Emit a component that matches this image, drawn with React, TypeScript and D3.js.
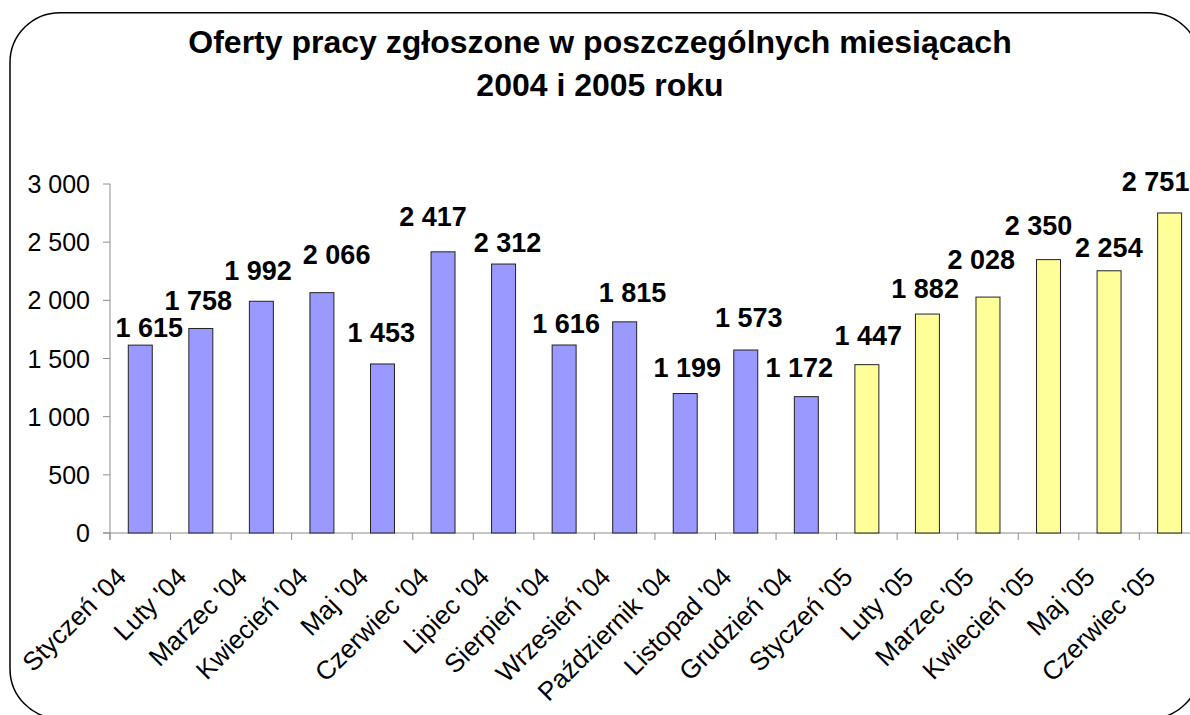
import React from "react";
import * as d3 from "d3";

const categories = [
  "Styczeń '04", "Luty '04", "Marzec '04", "Kwiecień '04", "Maj '04", "Czerwiec '04",
  "Lipiec '04", "Sierpień '04", "Wrzesień '04", "Październik '04", "Listopad '04", "Grudzień '04",
  "Styczeń '05", "Luty '05", "Marzec '05", "Kwiecień '05", "Maj '05", "Czerwiec '05",
];
const values2004 = [1615, 1758, 1992, 2066, 1453, 2417, 2312, 1616, 1815, 1199, 1573, 1172];
const values2005 = [1447, 1882, 2028, 2350, 2254, 2751];
const yTicks = [0, 500, 1000, 1500, 2000, 2500, 3000];
const titleLines = ["Oferty pracy zgłoszone w poszczególnych miesiącach", "2004 i 2005 roku"];

// label nudges (relative to bar centre / bar top) as placed in the original
const labelDx = [9, -2.5, -3.4, 14.7, -1.2, -10, 3.9, 2, 7.8, 2, 3, -7, 1.3, -2.3, -6.8, -10, -0.2, -14];
const labelGap = [7.7, 18, 21, 28.5, 22, 25.6, 12.3, 12.3, 20, 17, 23, 20, 20, 16, 27.7, 24.6, 13.5, 22];

const W = 1190;
const H = 715;
const FONT = "'Liberation Sans', Arial, Helvetica, sans-serif";

const fmt = (v: number) => {
  const s = String(v);
  return s.length > 3 ? s.slice(0, s.length - 3) + " " + s.slice(-3) : s;
};

export default function App() {
  const data = [
    ...values2004.map((v, i) => ({ cat: categories[i], value: v, year: 2004 })),
    ...values2005.map((v, i) => ({ cat: categories[12 + i], value: v, year: 2005 })),
  ];
  const x = d3.scaleBand<string>().domain(categories).range([110, 1199.9]).paddingInner(0.604).paddingOuter(0.302);
  const y = d3.scaleLinear().domain([0, 3000]).range([533, 184]);
  const step = x.step();
  const axisColor = "#8c8c8c";

  return (
    <svg width={W} height={H} style={{ position: "absolute", left: 0, top: 0, display: "block" }}>
      <rect x={0} y={0} width={W} height={H} fill="#ffffff" />
      <rect x={10} y={12.7} width={1190} height={706} rx={50} ry={50} fill="#ffffff" stroke="#000" strokeWidth={1.5} />
      {titleLines.map((t, i) => (
        <text key={i} x={600} y={53 + i * 43} textAnchor="middle" fontFamily={FONT} fontWeight="bold" fontSize={32} fill="#000">
          {t}
        </text>
      ))}
      {/* y axis */}
      <line x1={110} x2={110} y1={y(3000)} y2={540} stroke={axisColor} strokeWidth={1} />
      {yTicks.map((t) => (
        <g key={t}>
          <line x1={103} x2={110} y1={y(t)} y2={y(t)} stroke={axisColor} strokeWidth={1} />
          <text x={90} y={y(t)} dy="0.36em" textAnchor="end" fontFamily={FONT} fontSize={25} fill="#000">
            {fmt(t)}
          </text>
        </g>
      ))}
      {/* x axis */}
      <line x1={103} x2={1200} y1={y(0)} y2={y(0)} stroke={axisColor} strokeWidth={1} />
      {categories.map((c, i) => (
        <line key={c} x1={110 + i * step} x2={110 + i * step} y1={y(0)} y2={540} stroke={axisColor} strokeWidth={1} />
      ))}
      {/* bars */}
      {data.map((d) => (
        <rect
          key={d.cat}
          x={x(d.cat)}
          y={y(d.value)}
          width={x.bandwidth()}
          height={y(0) - y(d.value)}
          fill={d.year === 2004 ? "#9999ff" : "#ffff99"}
          stroke="#222"
          strokeWidth={1}
        />
      ))}
      {/* value labels */}
      {data.map((d, i) => (
        <text
          key={"l" + d.cat}
          x={(x(d.cat) as number) + x.bandwidth() / 2 + labelDx[i]}
          y={y(d.value) - labelGap[i]}
          textAnchor="middle"
          fontFamily={FONT}
          fontWeight="bold"
          fontSize={27}
          fill="#000"
        >
          {fmt(d.value)}
        </text>
      ))}
      {/* category labels */}
      {categories.map((c) => {
        const cx = (x(c) as number) + x.bandwidth() / 2 - 19;
        const cy = 572;
        return (
          <text
            key={"c" + c}
            transform={`translate(${cx},${cy}) rotate(-45)`}
            textAnchor="end"
            dy="0.35em"
            fontFamily={FONT}
            fontSize={26}
            fill="#000"
          >
            {c}
          </text>
        );
      })}
    </svg>
  );
}
